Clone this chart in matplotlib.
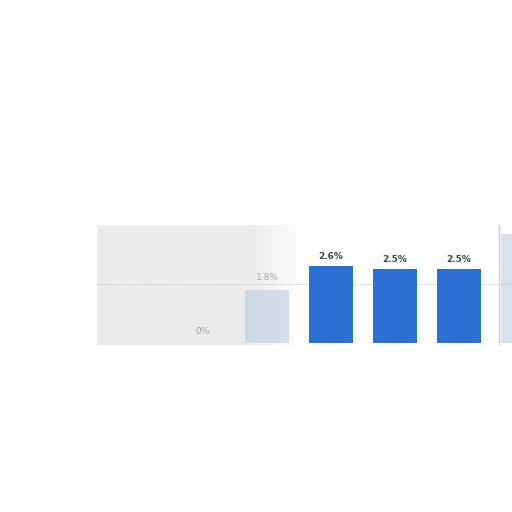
import matplotlib
matplotlib.use("Agg")
import matplotlib.pyplot as plt
import numpy as np

shares = [0.0, 1.8, 2.6, 2.5, 2.5, 3.7]
labels = ["0%", "1.8%", "2.6%", "2.5%", "2.5%", ""]
faded = [True, True, False, False, False, True]

blue = "#2b6fd3"

fig = plt.figure(figsize=(5.12, 5.12), dpi=100)
ax = fig.add_axes([97 / 512, 167 / 512, 415 / 512, 120 / 512])

# washed-out grey on the left half of the picture
grad = np.linspace(0.0, 1.0, 256)
shade = np.clip((grad - 0.36) / 0.14, 0, 1)
img = np.ones((2, 256, 3)) * (0.925 + 0.075 * shade)[None, :, None]
ax.imshow(img, extent=(-1.656, 4.828, -0.07, 4.0), aspect="auto", zorder=0)

x = np.arange(len(shares))
for i, (v, lab, f) in enumerate(zip(shares, labels, faded)):
    if f:
        ax.bar(x[i], v, width=0.69, color="#b8c8e0", alpha=0.55, zorder=2)
        ax.text(x[i], v + 0.25, lab, ha="center", va="bottom", fontsize=6.5,
                color="#a8a8a8", zorder=3)
    else:
        ax.bar(x[i], v, width=0.69, color=blue, zorder=2)
        ax.text(x[i], v + 0.17, lab, ha="center", va="bottom", fontsize=6.5,
                color="#444444", fontweight="bold", zorder=3)

ax.axhline(2.0, color="#bbbbbb", linestyle=":", linewidth=0.7, zorder=1)
ax.axvline(4.62, color="#cccccc", linewidth=1.0, zorder=1)

ax.set_xlim(-1.656, 4.828)
ax.set_ylim(-0.07, 4.0)
ax.axis("off")

fig.savefig("out.png", dpi=100)
